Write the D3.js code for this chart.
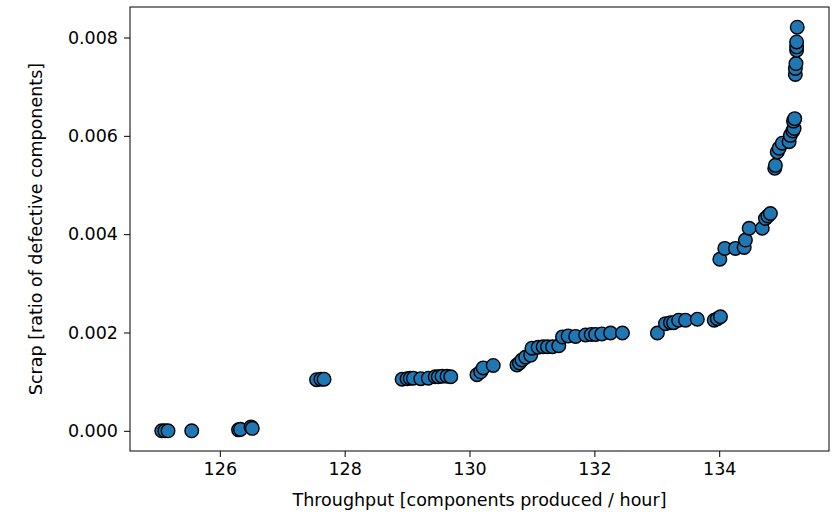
<!DOCTYPE html>
<html>
<head>
<meta charset="utf-8">
<script src="https://cdn.jsdelivr.net/npm/d3@7"></script>
<style>
  body { margin: 0; background: #fff; }
  svg text { font-family: "DejaVu Sans", sans-serif; fill: #000; }
</style>
</head>
<body>
<svg id="chart" width="836" height="515"></svg>
<script>
// throughput (components / hour) and scrap ratio
const throughput = [
  125.07, 125.12, 125.17, 125.55, 126.30, 126.33, 126.50, 126.52,
  127.55, 127.62, 127.67,
  128.92, 129.00, 129.05, 129.10, 129.22, 129.34, 129.45, 129.50, 129.56, 129.64, 129.70,
  130.12, 130.18, 130.22, 130.38, 130.76, 130.80, 130.84, 130.90, 130.98, 131.00,
  131.10, 131.18, 131.25, 131.33, 131.43, 131.49, 131.58, 131.70, 131.86, 131.95,
  132.02, 132.12, 132.26, 132.45, 133.01, 133.14, 133.22, 133.27, 133.35, 133.46,
  133.65, 133.92, 133.97, 134.02, 134.01, 134.09, 134.26, 134.40, 134.42, 134.48,
  134.69, 134.74, 134.78, 134.82, 134.89, 134.90, 134.93, 134.96, 135.01, 135.12,
  135.14, 135.18, 135.20, 135.19, 135.21, 135.22, 135.22, 135.23, 135.24, 135.24,
  135.24, 135.25
];
const scrap = [
  0, 0, 0, 0, 0.00002, 0.00003, 0.00008, 0.00005,
  0.00104, 0.00105, 0.00105,
  0.00105, 0.00106, 0.00107, 0.00107, 0.00106, 0.00107, 0.00110, 0.00110, 0.00111, 0.00111, 0.00110,
  0.00114, 0.00120, 0.00128, 0.00133, 0.00134, 0.00138, 0.00144, 0.00150, 0.00154, 0.00168,
  0.00170, 0.00171, 0.00171, 0.00171, 0.00173, 0.00191, 0.00193, 0.00192, 0.00195, 0.00196,
  0.00196, 0.00197, 0.00199, 0.00199, 0.00199, 0.00218, 0.00220, 0.00220, 0.00225, 0.00225,
  0.00227, 0.00225, 0.00228, 0.00232, 0.00349, 0.00371, 0.00371, 0.00373, 0.00388, 0.00412,
  0.00412, 0.00432, 0.00437, 0.00442, 0.00534, 0.00540, 0.00567, 0.00575, 0.00585, 0.00588,
  0.00601, 0.00610, 0.00615, 0.00630, 0.00635, 0.00725, 0.00737, 0.00747, 0.00774, 0.00781,
  0.00791, 0.00821
];
const xTicks = [126, 128, 130, 132, 134];
const yTicks = [0, 0.002, 0.004, 0.006, 0.008];
const xLabel = "Throughput [components produced / hour]";
const yLabel = "Scrap [ratio of defective components]";

const svg = d3.select("#chart");
const plotL = 130, plotR = 829, plotT = 7, plotB = 451;
const fontSize = "17.5px";

// 5% margins like matplotlib autoscale
function padded(arr) {
  const ext = d3.extent(arr), m = (ext[1] - ext[0]) * 0.05;
  return [ext[0] - m, ext[1] + m];
}

const x = d3.scaleLinear().domain(padded(throughput)).range([plotL, plotR]);
const y = d3.scaleLinear().domain(padded(scrap)).range([plotB, plotT]);

const data = throughput.map(function(d, i) { return [d, scrap[i]]; });

const g = svg.append("g");
g.selectAll("circle")
  .data(data)
  .enter()
  .append("circle")
  .attr("cx", function(d) { return x(d[0]); })
  .attr("cy", function(d) { return y(d[1]); })
  .attr("r", 6.8)
  .attr("fill", "#1f77b4")
  .attr("stroke", "#000")
  .attr("stroke-width", 1.4);

// axes
const xAxis = svg.append("g")
  .attr("transform", "translate(0," + plotB + ")")
  .call(d3.axisBottom(x).tickValues(xTicks).tickFormat(d3.format("d")).tickSize(6).tickPadding(6));
const yAxis = svg.append("g")
  .attr("transform", "translate(" + plotL + ",0)")
  .call(d3.axisLeft(y).tickValues(yTicks).tickFormat(d3.format(".3f")).tickSize(6).tickPadding(6));

[xAxis, yAxis].forEach(function(a) {
  a.select(".domain").remove();
  a.selectAll("line").attr("stroke", "#000").attr("stroke-width", 1);
  a.selectAll("text").attr("font-size", fontSize).attr("font-family", "DejaVu Sans");
});

// frame
svg.append("rect")
  .attr("x", plotL).attr("y", plotT)
  .attr("width", plotR - plotL).attr("height", plotB - plotT)
  .attr("fill", "none").attr("stroke", "#000").attr("stroke-width", 1);

svg.append("text")
  .attr("x", (plotL + plotR) / 2)
  .attr("y", 506)
  .attr("text-anchor", "middle")
  .attr("font-size", fontSize)
  .text(xLabel);

svg.append("text")
  .attr("transform", "translate(42," + (plotT + plotB) / 2 + ") rotate(-90)")
  .attr("text-anchor", "middle")
  .attr("font-size", fontSize)
  .text(yLabel);
</script>
</body>
</html>
